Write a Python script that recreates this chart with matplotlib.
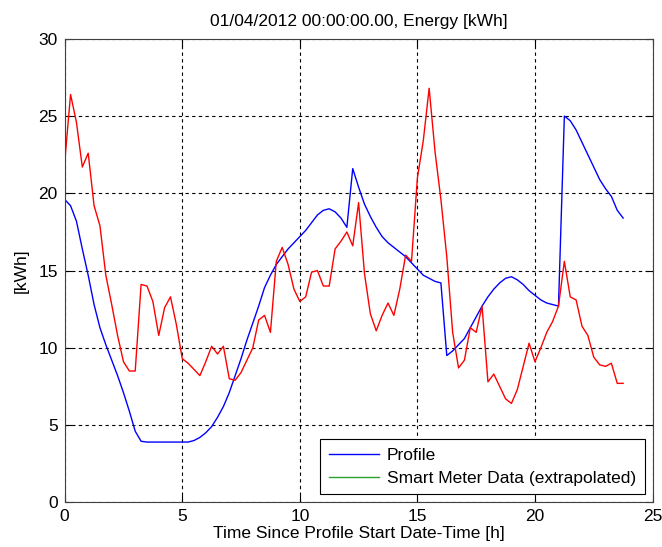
import matplotlib
matplotlib.use("Agg")
import matplotlib.pyplot as plt
from matplotlib.lines import Line2D
import numpy as np

plt.rcParams['font.family'] = ['Liberation Sans', 'DejaVu Sans']

# quarter-hour samples, 0 .. 23.75 h
hours = np.arange(96) * 0.25

profile = [19.6, 19.2, 18.2, 16.4, 14.7, 12.8, 11.3, 10.2, 9.2, 8.2, 7.1, 5.9,
           4.6, 3.95, 3.9, 3.9, 3.9, 3.9, 3.9, 3.9, 3.9, 3.9, 4.0, 4.2,
           4.5, 4.9, 5.5, 6.2, 7.1, 8.2, 9.3, 10.5, 11.6, 12.7, 13.9, 14.7,
           15.4, 15.9, 16.4, 16.8, 17.2, 17.6, 18.1, 18.6, 18.9, 19.0, 18.8, 18.4,
           17.8, 21.6, 20.4, 19.3, 18.5, 17.8, 17.2, 16.8, 16.5, 16.2, 15.9, 15.5,
           15.1, 14.7, 14.5, 14.3, 14.2, 9.5, 9.8, 10.2, 10.6, 11.3, 12.0, 12.7,
           13.3, 13.8, 14.2, 14.5, 14.6, 14.4, 14.1, 13.7, 13.4, 13.1, 12.9, 12.8,
           12.7, 25.0, 24.7, 24.1, 23.3, 22.5, 21.7, 20.9, 20.3, 19.8, 18.9, 18.4]

smart_meter = [22.0, 26.4, 24.6, 21.7, 22.6, 19.2, 17.9, 14.7, 12.8, 10.8, 9.1, 8.5,
               8.5, 14.1, 14.0, 13.0, 10.8, 12.6, 13.3, 11.5, 9.3, 9.0, 8.6, 8.2,
               9.1, 10.1, 9.6, 10.1, 8.0, 7.9, 8.4, 9.2, 10.0, 11.8, 12.1, 11.0,
               15.6, 16.5, 15.4, 13.8, 13.0, 13.3, 14.9, 15.0, 14.0, 14.0, 16.4, 16.9,
               17.5, 16.6, 19.4, 14.8, 12.2, 11.1, 12.1, 12.9, 12.1, 13.8, 16.0, 15.6,
               21.0, 23.4, 26.8, 22.7, 19.6, 15.9, 11.0, 8.7, 9.2, 11.3, 11.0, 12.7,
               7.8, 8.3, 7.5, 6.7, 6.4, 7.3, 8.8, 10.3, 9.1, 10.0, 11.0, 11.7,
               12.7, 15.6, 13.3, 13.1, 11.4, 10.8, 9.4, 8.9, 8.8, 9.0, 7.7, 7.7]

fs = 12.5

fig = plt.figure(figsize=(6.62, 5.47), dpi=100)
ax = fig.add_axes([0.0977, 0.0817, 0.888, 0.8473])

ax.plot(hours, profile, color='blue', lw=1.0)
ax.plot(hours, smart_meter, color='red', lw=1.0)

ax.set_xlim(0, 25)
ax.set_ylim(0, 30)
ax.set_xticks([0, 5, 10, 15, 20, 25])
ax.set_yticks([0, 5, 10, 15, 20, 25, 30])
ax.grid(True, color='black', linestyle=(0, (3, 3)), linewidth=0.8)
ax.tick_params(direction='in', top=True, right=True, labelsize=fs, length=5, pad=5)
for s in ax.spines.values():
    s.set_color('#404040')

ax.set_title("01/04/2012 00:00:00.00, Energy [kWh]", fontsize=fs, pad=9)
ax.set_xlabel("Time Since Profile Start Date-Time [h]", fontsize=fs, labelpad=1)
ax.set_ylabel("[kWh]", fontsize=fs, labelpad=7)

# legend as in the original: second entry shown in green
handles = [Line2D([], [], color='blue', lw=1.0),
           Line2D([], [], color='#2ca02c', lw=1.0)]
leg = ax.legend(handles, ["Profile", "Smart Meter Data (extrapolated)"],
                loc='lower right', fontsize=fs, fancybox=False, framealpha=1,
                edgecolor='black', handlelength=2.9, handletextpad=0.45,
                borderpad=0.5, borderaxespad=0.45, labelspacing=0.45)
leg.get_frame().set_linewidth(0.8)

fig.savefig("out.png", dpi=100)
